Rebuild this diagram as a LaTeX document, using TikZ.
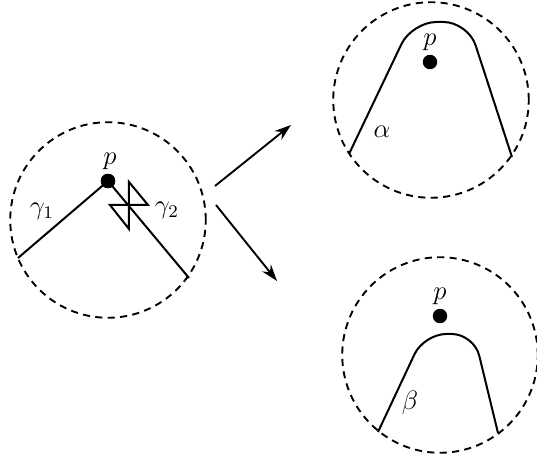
\documentclass[tikz,border=0pt]{standalone}
\usetikzlibrary{arrows.meta}
\begin{document}
\begin{tikzpicture}[x=0.45pt,y=-0.45pt,
  every node/.append style={font=\fontsize{12}{14}\selectfont},
  nbhd/.style={draw,circle,dash pattern=on 3.2pt off 2.4pt,line width=0.85pt,minimum size=88pt,inner sep=0pt},
  curve/.style={line width=0.9pt},
  pt/.style={circle,fill=black,inner sep=0pt,minimum size=6.5pt},
  lab/.style={inner sep=1pt},
  arr/.style={line width=0.85pt,-{Stealth[length=7.5pt,width=5pt]}}]
\useasboundingbox (0,0) rectangle (537,462);
% neighbourhoods
\node[nbhd] (c1) at (108,220) {};
\node[nbhd] (c2) at (431,100) {};
\node[nbhd] (c3) at (440,355) {};
% left picture
\coordinate (g1e) at (18,258);
\coordinate (g2e) at (189,278);
\node[pt] (p1) at (108,181) {};
\draw[curve] (g1e) -- (p1.center) -- (g2e);
\node[pt] at (p1) {};
\coordinate (t1) at (129,182);
\coordinate (t2) at (148,205);
\coordinate (t3) at (110,205);
\coordinate (t4) at (129,229);
\draw[curve,line join=miter] (t1) -- (t2) -- (t3) -- (t4) -- cycle;
\node[lab] (lp1) at (110,161) {$p$};
\node[lab] (lg1) at (42,211) {$\gamma_1$};
\node[lab] (lg2) at (167,210) {$\gamma_2$};
% top right
\coordinate (a0) at (349,154);
\coordinate (a1) at (412,22);
\coordinate (a2) at (468,22);
\coordinate (a3) at (512,157);
\draw[curve,rounded corners=11pt] (a0) -- (a1) -- (a2) -- (a3);
\node[pt] (p2) at (430,62) {};
\node[lab] (lp2) at (430,42) {$p$};
\node[lab] (la) at (382,132) {$\alpha$};
% bottom right
\coordinate (b0) at (378,432);
\coordinate (b1) at (424,334);
\coordinate (b2) at (474,334);
\coordinate (b3) at (498,433);
\draw[curve,rounded corners=10pt] (b0) -- (b1) -- (b2) -- (b3);
\node[pt] (p3) at (440,316) {};
\node[lab] (lp3) at (440,296) {$p$};
\node[lab] (lb) at (410,403) {$\beta$};
% arrows
\coordinate (u0) at (215,186);
\coordinate (u1) at (291,125);
\coordinate (d0) at (216,205);
\coordinate (d1) at (277,281);
\draw[arr] (u0) -- (u1);
\draw[arr] (d0) -- (d1);
\end{tikzpicture}
\end{document}
